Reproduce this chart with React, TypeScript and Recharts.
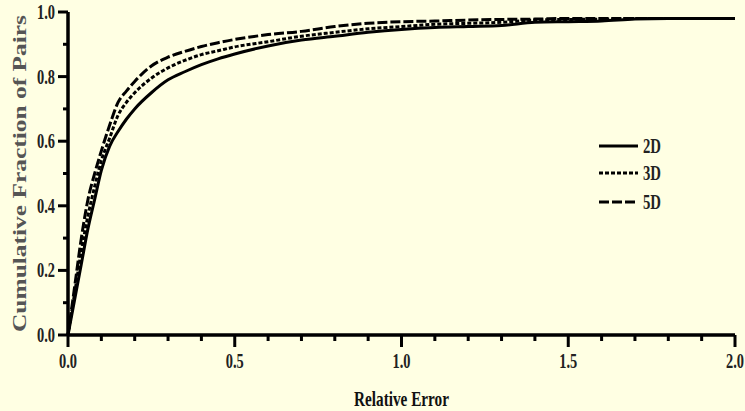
import { LineChart, Line, XAxis, YAxis, Customized } from "recharts";

const X_VALUES = [0, 0.02, 0.04, 0.06, 0.08, 0.1, 0.125, 0.15, 0.175, 0.2, 0.25, 0.3, 0.35, 0.4, 0.45, 0.5, 0.6, 0.7, 0.8, 0.9, 1.0, 1.1, 1.2, 1.3, 1.4, 1.5, 1.6, 1.7, 1.8, 1.9, 2.0];

const FRAC_2D = [0, 0.11, 0.22, 0.33, 0.42, 0.51, 0.585, 0.63, 0.668, 0.7, 0.75, 0.79, 0.815, 0.837, 0.855, 0.87, 0.895, 0.913, 0.925, 0.937, 0.946, 0.952, 0.955, 0.958, 0.968, 0.97, 0.972, 0.978, 0.98, 0.98, 0.98];
const FRAC_3D = [0, 0.13, 0.26, 0.37, 0.46, 0.54, 0.61, 0.68, 0.72, 0.75, 0.795, 0.827, 0.85, 0.868, 0.88, 0.892, 0.908, 0.925, 0.937, 0.948, 0.955, 0.962, 0.965, 0.968, 0.975, 0.977, 0.978, 0.98, 0.98, 0.98, 0.98];
const FRAC_5D = [0, 0.15, 0.3, 0.42, 0.5, 0.57, 0.65, 0.72, 0.755, 0.785, 0.833, 0.86, 0.878, 0.893, 0.905, 0.915, 0.93, 0.94, 0.955, 0.965, 0.97, 0.972, 0.975, 0.977, 0.978, 0.98, 0.98, 0.98, 0.98, 0.98, 0.98];

const SERIES = [
  { key: "d2", name: "2D", dash: undefined as string | undefined },
  { key: "d3", name: "3D", dash: "4 2" },
  { key: "d5", name: "5D", dash: "10 3" },
];

const X_TICKS = Array.from({ length: 21 }, (_, i) => i / 10);
const Y_TICKS = Array.from({ length: 11 }, (_, i) => i / 10);

const data = X_VALUES.map((x, i) => ({ x, d2: FRAC_2D[i], d3: FRAC_3D[i], d5: FRAC_5D[i] }));

const FONT = "'Liberation Serif', 'Times New Roman', serif";
const BG = "#FFFFE3";

function XTick({ x, y, payload }: any) {
  const v = payload.value as number;
  const major = Math.abs(v * 2 - Math.round(v * 2)) < 1e-6;
  return (
    <g>
      <line x1={x} x2={x} y1={y} y2={y + (major ? 12 : 6)} stroke="#000" strokeWidth={3} />
      {major && (
        <text x={x} y={y + 33} textAnchor="middle" fontFamily={FONT} fontWeight="bold" fontSize={21} fill="#222" textLength={18} lengthAdjust="spacingAndGlyphs">
          {v.toFixed(1)}
        </text>
      )}
    </g>
  );
}

function YTick({ x, y, payload }: any) {
  const v = payload.value as number;
  const major = Math.abs(v * 5 - Math.round(v * 5)) < 1e-6;
  return (
    <g>
      <line x1={x} x2={x - (major ? 10 : 5)} y1={y} y2={y} stroke="#000" strokeWidth={3} />
      {major && (
        <text x={x - 13} y={y + 7} textAnchor="end" fontFamily={FONT} fontWeight="bold" fontSize={21} fill="#222" textLength={18} lengthAdjust="spacingAndGlyphs">
          {v.toFixed(1)}
        </text>
      )}
    </g>
  );
}

// legend drawn inside the svg so it does not eat plot space
function LegendBox() {
  return (
    <g transform="translate(599, 136)">
      {SERIES.map((s, i) => {
        const y = [10, 37, 66][i];
        return (
          <g key={s.key}>
            <line x1={0} x2={39} y1={y} y2={y} stroke="#000" strokeWidth={3} strokeDasharray={s.dash} />
            <text x={44} y={y + 7} fontFamily={FONT} fontWeight="bold" fontSize={20} fill="#222" textLength={18} lengthAdjust="spacingAndGlyphs">
              {s.name}
            </text>
          </g>
        );
      })}
    </g>
  );
}

export default function App() {
  return (
    <div style={{ position: "absolute", left: 0, top: 0, width: 745, height: 411, background: BG }}>
      <LineChart width={745} height={411} data={data} margin={{ top: 12, right: 10, left: 0, bottom: 0 }}>
        <XAxis
          dataKey="x"
          type="number"
          domain={[0, 2]}
          ticks={X_TICKS}
          interval={0}
          height={76}
          tickSize={0}
          tickMargin={0}
          tickLine={false}
          tick={<XTick />}
          axisLine={{ stroke: "#000", strokeWidth: 3.5 }}
          label={(p: any) => {
            const vb = p.viewBox;
            return (
              <text x={vb.x + vb.width / 2} y={406} textAnchor="middle" fontFamily={FONT} fontWeight="bold" fontSize={22} fill="#111" textLength={95} lengthAdjust="spacingAndGlyphs">
                Relative Error
              </text>
            );
          }}
        />
        <YAxis
          type="number"
          domain={[0, 1]}
          ticks={Y_TICKS}
          interval={0}
          width={68}
          tickSize={0}
          tickMargin={0}
          tickLine={false}
          tick={<YTick />}
          axisLine={{ stroke: "#000", strokeWidth: 3.5 }}
          label={(p: any) => {
            const vb = p.viewBox;
            const cy = vb.y + vb.height / 2;
            return (
              <text x={19} y={cy} transform={`rotate(-90, 19, ${cy})`} dy={7} textAnchor="middle" fontFamily={FONT} fontWeight="bold" fontSize={19} fill="#555" textLength={317} lengthAdjust="spacingAndGlyphs">
                Cumulative Fraction of Pairs
              </text>
            );
          }}
        />
        {SERIES.map((s) => (
          <Line
            key={s.key}
            dataKey={s.key}
            name={s.name}
            type="monotone"
            stroke="#000"
            strokeWidth={3}
            strokeDasharray={s.dash}
            dot={false}
            isAnimationActive={false}
          />
        ))}
        <Customized component={LegendBox} />
      </LineChart>
    </div>
  );
}
